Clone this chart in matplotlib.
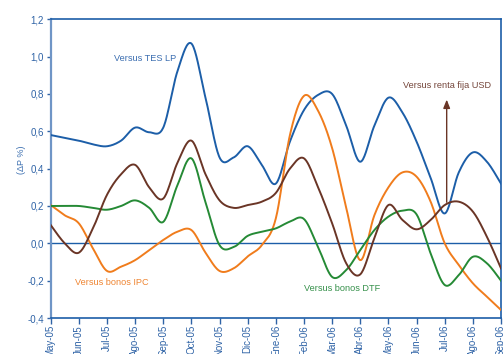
import matplotlib
matplotlib.use("Agg")
import matplotlib.pyplot as plt
import numpy as np

plt.rcParams['font.family'] = ['Liberation Sans', 'DejaVu Sans']

# meses del eje x
meses = ["May-05", "Jun-05", "Jul-05", "Ago-05", "Sep-05", "Oct-05", "Nov-05",
         "Dic-05", "Ene-06", "Feb-06", "Mar-06", "Abr-06", "May-06", "Jun-06",
         "Jul-06", "Ago-06", "Sep-06"]
# observaciones quincenales (0, 0.5, 1, ... 16 meses)
t = np.arange(0, 16.5, 0.5)

tes_lp = [0.58, 0.565, 0.55, 0.53, 0.52, 0.55, 0.62, 0.595, 0.62, 0.92, 1.07,
          0.78, 0.46, 0.46, 0.52, 0.42, 0.32, 0.545, 0.714, 0.795, 0.80, 0.63,
          0.437, 0.63, 0.78, 0.70, 0.545, 0.35, 0.16, 0.38, 0.487, 0.437, 0.32]
bonos_ipc = [0.205, 0.15, 0.107, -0.027, -0.148, -0.125, -0.09, -0.036, 0.018,
             0.062, 0.071, -0.05, -0.148, -0.134, -0.07, -0.01, 0.134, 0.58,
             0.79, 0.71, 0.51, 0.19, -0.09, 0.15, 0.30, 0.38, 0.357, 0.223,
             0.0, -0.116, -0.214, -0.286, -0.357]
bonos_dtf = [0.2, 0.2, 0.2, 0.19, 0.18, 0.20, 0.23, 0.19, 0.115, 0.31, 0.455,
             0.22, -0.01, -0.02, 0.04, 0.062, 0.08, 0.116, 0.13, -0.02, -0.18,
             -0.143, -0.036, 0.071, 0.143, 0.175, 0.155, -0.054, -0.223, -0.17,
             -0.072, -0.107, -0.2]
renta_usd = [0.098, 0.0, -0.05, 0.08, 0.26, 0.37, 0.42, 0.30, 0.24, 0.43, 0.55,
             0.37, 0.23, 0.19, 0.205, 0.223, 0.27, 0.40, 0.455, 0.30, 0.107,
             -0.107, -0.166, 0.027, 0.205, 0.125, 0.075, 0.125, 0.205, 0.223,
             0.17, 0.035, -0.134]


def suavizar(x, y, n=20):
    # curva catmull-rom entre los puntos (linea suavizada)
    x = np.asarray(x, float)
    y = np.asarray(y, float)
    px = np.concatenate([[x[0]], x, [x[-1]]])
    py = np.concatenate([[y[0]], y, [y[-1]]])
    xs, ys = [], []
    s = np.linspace(0, 1, n, endpoint=False)
    for i in range(1, len(px) - 2):
        for p, out in ((px, xs), (py, ys)):
            p0, p1, p2, p3 = p[i - 1], p[i], p[i + 1], p[i + 2]
            out.extend(0.5 * (2 * p1 + (-p0 + p2) * s
                              + (2 * p0 - 5 * p1 + 4 * p2 - p3) * s ** 2
                              + (-p0 + 3 * p1 - 3 * p2 + p3) * s ** 3))
    xs.append(x[-1])
    ys.append(y[-1])
    return np.array(xs), np.array(ys)


azul = '#1c5ea8'
naranja = '#f07c1c'
verde = '#258a35'
cafe = '#6a3526'
eje = '#2f63a6'

fig = plt.figure(figsize=(5.03, 3.54), dpi=100)
ax = fig.add_axes([50.7 / 503, 1 - 318 / 354, (501 - 50.7) / 503, (318 - 19.3) / 354])

ax.axhline(0, color=azul, lw=1.0, zorder=1)
for serie, c in ((tes_lp, azul), (bonos_ipc, naranja), (bonos_dtf, verde), (renta_usd, cafe)):
    xs, ys = suavizar(t, serie)
    ax.plot(xs, ys, color=c, lw=1.4, zorder=3)

ax.set_xlim(0, 16)
ax.set_ylim(-0.4, 1.2)
ax.set_xticks(range(len(meses)))
ax.set_xticklabels(meses, rotation=90, fontsize=7, color=eje, va='top')
yt = np.arange(-0.4, 1.21, 0.2)
ax.set_yticks(yt)
ax.set_yticklabels([f"{v:.1f}".replace('.', ',').replace('-0,0', '0,0') for v in yt],
                   fontsize=7, color=eje)
ax.tick_params(axis='x', length=4, width=1, color=eje, pad=1)
ax.tick_params(axis='y', length=3, width=1, color=eje, pad=2)
for lado in ('top', 'right', 'bottom'):
    ax.spines[lado].set_color(azul)
    ax.spines[lado].set_linewidth(1.2)
ax.spines['left'].set_color('#6f95c6')
ax.spines['left'].set_linewidth(1.6)

fig.text(22 / 503, 1 - 160 / 354, '(ΔP %)', rotation=90, fontsize=6.5,
         color='#3c6fb0', ha='center', va='center')

ax.text(3.35, 0.99, 'Versus TES LP', color='#3a6db0', fontsize=6.6, ha='center', va='center')
ax.text(2.17, -0.209, 'Versus bonos IPC', color='#ef8532', fontsize=6.6, ha='center', va='center')
ax.text(10.37, -0.24, 'Versus bonos DTF', color='#35904a', fontsize=6.6, ha='center', va='center')
ax.text(14.07, 0.845, 'Versus renta fija USD', color='#74453a', fontsize=6.6, ha='center', va='center')
ax.annotate('', xy=(14.07, 0.77), xytext=(14.07, 0.22),
            arrowprops=dict(arrowstyle='-|>,head_length=0.5,head_width=0.2',
                            color=cafe, lw=1.0, shrinkA=0, shrinkB=0))

fig.savefig('out.png', dpi=100)
